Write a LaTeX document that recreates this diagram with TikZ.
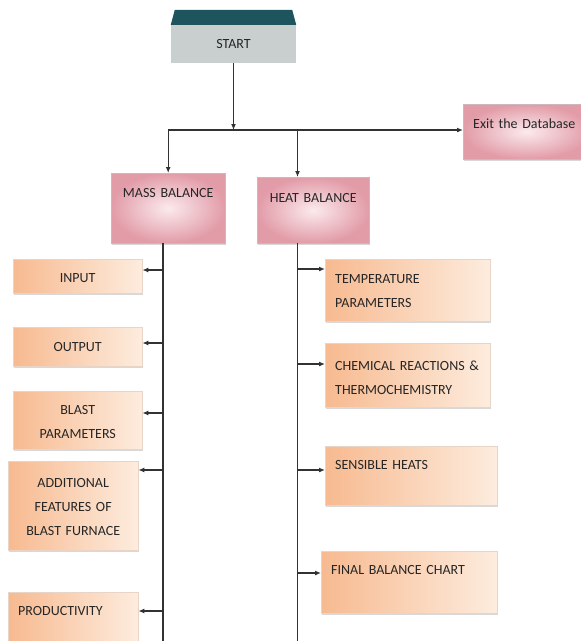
\documentclass[tikz,border=0pt]{standalone}
\usepackage{fontspec}
\setmainfont{Carlito}
\usetikzlibrary{shadows,arrows.meta}
\definecolor{peachd}{RGB}{247,186,144}
\definecolor{peachl}{RGB}{253,236,222}
\definecolor{pinkd}{RGB}{226,156,168}
\definecolor{pinkl}{RGB}{251,234,237}
\definecolor{startgray}{RGB}{201,206,207}
\definecolor{starttop}{RGB}{30,84,94}
\definecolor{linegray}{RGB}{50,50,50}
\begin{document}
\begin{tikzpicture}[x=1pt,y=-1pt,>={Latex[length=6pt,width=5pt]},
        every node/.style={font=\fontsize{14}{24}\selectfont,text=black!85},
        box/.style={anchor=north west,inner ysep=0pt,inner xsep=10pt,
            drop shadow={shadow xshift=1pt,shadow yshift=-1.5pt,opacity=.3}},
        pinkbox/.style={box,draw=pinkd!70!black!50,line width=.4pt,
            inner color=pinkl,outer color=pinkd,align=center},
        peachbox/.style={box,draw=peachd!80!black!40,line width=.4pt,
            left color=peachd,right color=peachl},
        conn/.style={draw=linegray,line width=1.3pt}]
\useasboundingbox[fill=white] (0,0) rectangle (581,641);

% start block with its dark lid
\node[fill=startgray,minimum width=125pt,minimum height=38pt,inner sep=0pt] (start) at (233.5,44) {START};
\fill[starttop] (start.north west) -- ([xshift=4pt,yshift=15pt]start.north west)
    -- ([xshift=-4pt,yshift=15pt]start.north east) -- (start.north east) -- cycle;

\node[pinkbox,align=left,text width=107pt,text height=24pt,text depth=31pt] (exit) at (463,104) {Exit the Database};
\node[pinkbox,text width=94pt,text height=24pt,text depth=46pt] (mass) at (111,173) {MASS BALANCE};
\node[pinkbox,text width=92pt,text height=25pt,text depth=41pt] (heat) at (257,177) {HEAT BALANCE};

% mass balance side
\node[peachbox,align=center,text width=109pt,text height=23pt,text depth=11pt] (input) at (13,259) {INPUT};
\node[peachbox,align=center,text width=109pt,text height=24pt,text depth=15pt] (output) at (13,327) {OUTPUT};
\node[peachbox,align=center,text width=109pt,text height=23pt,text depth=35pt] (blast) at (13,391) {BLAST\\PARAMETERS};
\node[peachbox,align=center,text width=110pt,text height=26pt,text depth=63pt] (additional) at (8,461) {ADDITIONAL\\FEATURES OF\\BLAST FURNACE};
\node[peachbox,align=left,text width=110pt,text height=23pt,text depth=30pt] (productivity) at (8,592) {PRODUCTIVITY};

% heat balance side
\node[peachbox,align=left,text width=145pt,text height=24pt,text depth=38pt] (temp) at (325,259) {TEMPERATURE\\PARAMETERS};
\node[peachbox,align=left,text width=145pt,text height=27pt,text depth=37pt] (chem) at (325,343) {CHEMICAL REACTIONS \&\\THERMOCHEMISTRY};
\node[peachbox,align=left,text width=152pt,text height=23pt,text depth=36pt] (sensible) at (325,446) {SENSIBLE HEATS};
\node[peachbox,align=left,text width=156pt,text height=23pt,text depth=39pt] (final) at (321,551) {FINAL BALANCE CHART};

\coordinate (split) at (233,130);
\coordinate (mline) at (163,641);
\coordinate (hline) at (297.5,641);

\draw[conn,->] (start.south) -- (start.south |- split);
\draw[conn,->] (mass.north |- split) -- (split -| exit.west);
\draw[conn,->] (mass.north |- split) -- (mass.north);
\draw[conn,->] (hline |- split) -- (hline |- heat.north);

\draw[conn] (mline |- mass.south) -- (mline);
\draw[conn] (hline |- heat.south) -- (hline);

\draw[conn,->] ([yshift=-11pt]input.north east -| mline) -- ([yshift=-11pt]input.north east);
\draw[conn,->] ([yshift=-16pt]output.north east -| mline) -- ([yshift=-16pt]output.north east);
\draw[conn,->] ([yshift=-22pt]blast.north east -| mline) -- ([yshift=-22pt]blast.north east);
\draw[conn,->] ([yshift=-9pt]additional.north east -| mline) -- ([yshift=-9pt]additional.north east);
\draw[conn,->] ([yshift=-19pt]productivity.north east -| mline) -- ([yshift=-19pt]productivity.north east);

\draw[conn,->] ([yshift=-10pt]temp.north west -| hline) -- ([yshift=-10pt]temp.north west);
\draw[conn,->] ([yshift=-21pt]chem.north west -| hline) -- ([yshift=-21pt]chem.north west);
\draw[conn,->] ([yshift=-24pt]sensible.north west -| hline) -- ([yshift=-24pt]sensible.north west);
\draw[conn,->] ([yshift=-22pt]final.north west -| hline) -- ([yshift=-22pt]final.north west);

\end{tikzpicture}
\end{document}
